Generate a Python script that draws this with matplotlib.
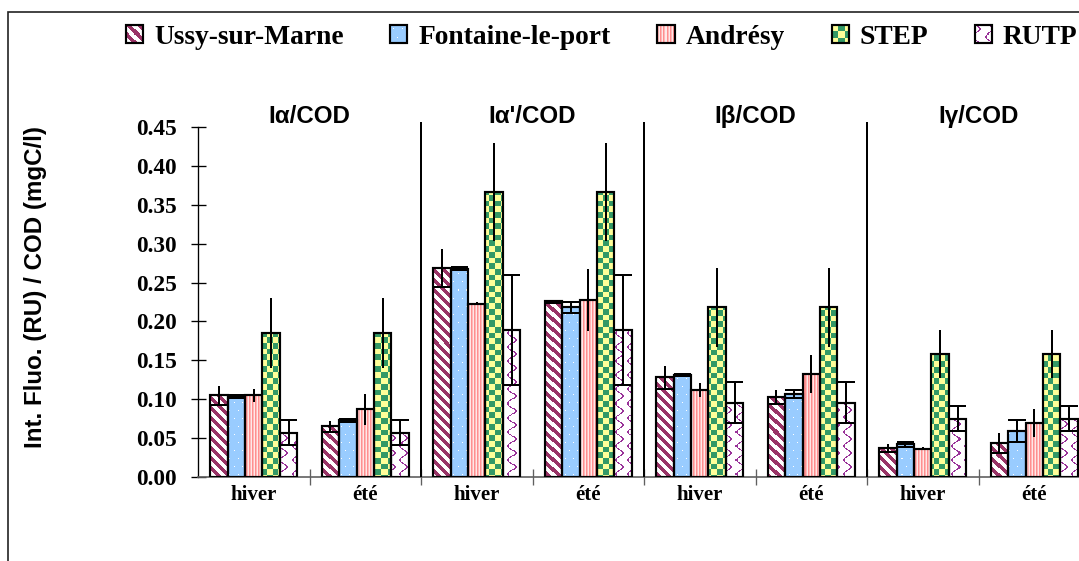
import numpy as np
import matplotlib
matplotlib.use("Agg")
import matplotlib.pyplot as plt
from matplotlib.patches import Rectangle, Patch
from matplotlib.image import BboxImage
from matplotlib.transforms import Bbox, TransformedBbox, blended_transform_factory
from matplotlib.legend_handler import HandlerBase

# data: 4 ratios x 2 seasons, one list per site
groups = ["Iα/COD", "Iα'/COD", "Iβ/COD", "Iγ/COD"]
seasons = ["hiver", "été"]
sites = ["Ussy-sur-Marne", "Fontaine-le-port", "Andrésy", "STEP", "RUTP"]

ussy = [0.105, 0.065, 0.269, 0.226, 0.128, 0.103, 0.037, 0.044]
ussy_err = [0.0125, 0.007, 0.0245, 0.002, 0.0145, 0.009, 0.005, 0.0125]
fontaine = [0.104, 0.073, 0.268, 0.218, 0.131, 0.107, 0.042, 0.0595]
fontaine_err = [0.002, 0.002, 0.0025, 0.007, 0.001, 0.005, 0.003, 0.014]
andresy = [0.105, 0.087, 0.223, 0.228, 0.1115, 0.1325, 0.0365, 0.0695]
andresy_err = [0.008, 0.0195, 0.002, 0.040, 0.009, 0.024, 0.002, 0.018]
step = [0.1855, 0.1855, 0.3665, 0.3665, 0.218, 0.218, 0.158, 0.158]
step_err = [0.045, 0.045, 0.0635, 0.0635, 0.051, 0.051, 0.031, 0.031]
rutp = [0.057, 0.057, 0.189, 0.189, 0.0955, 0.0955, 0.075, 0.075]
rutp_err = [0.016, 0.016, 0.0705, 0.0705, 0.0265, 0.0265, 0.016, 0.016]

values = [ussy, fontaine, andresy, step, rutp]
errors = [ussy_err, fontaine_err, andresy_err, step_err, rutp_err]
kinds = ["diag", "dots", "vstripes", "checker", "wave"]
# which caps each series shows: (lower, upper)
caps = [(True, False), (True, True), (False, False), (False, False), (True, True)]


def hexrgb(h):
    h = h.lstrip("#")
    return np.array([int(h[i:i + 2], 16) / 255 for i in (0, 2, 4)])


def texture(kind, h, w):
    # pixel fill patterns like the excel ones
    r, c = np.mgrid[0:h, 0:w]
    img = np.ones((h, w, 3))
    if kind == "diag":
        img[((c - r) % 10) < 4.5] = hexrgb("#993366")
    elif kind == "dots":
        img[:] = hexrgb("#99CCFF")
        shift = 4 * ((r // 8) % 2)
        img[(r % 8 == 3) & ((c + shift) % 8 == 3)] = 1.0
    elif kind == "vstripes":
        img[c % 3 == 0] = hexrgb("#FF8F8F")
        img[c % 3 == 1] = hexrgb("#FFB8B8")
        img[c % 3 == 2] = hexrgb("#FFE8E8")
    elif kind == "checker":
        img[:] = hexrgb("#FFFF99")
        img[((np.floor(r / 5.7) + np.floor(c / 5.7)) % 2) == 1] = hexrgb("#339966")
    elif kind == "wave":
        d = (c - 3.5 * np.sin(2 * np.pi * r / 14)) % 12
        img[d < 1.6] = hexrgb("#993399")
    return img


class TexHandler(HandlerBase):
    def __init__(self, kind):
        super().__init__()
        self.kind = kind

    def create_artists(self, legend, orig_handle, xdescent, ydescent,
                       width, height, fontsize, trans):
        bb = TransformedBbox(Bbox.from_bounds(-xdescent, -ydescent, width, height), trans)
        img = BboxImage(bb, interpolation="nearest")
        img.set_data(texture(self.kind, 17, 17))
        rect = Rectangle((-xdescent, -ydescent), width, height, facecolor="none",
                         edgecolor="black", lw=1.3, transform=trans)
        return [img, rect]


W, H, DPI = 1079, 561, 120
fig = plt.figure(figsize=(W / DPI, H / DPI), dpi=DPI)
ax = fig.add_axes([198 / W, 84 / H, 892 / W, 350 / H])

ymax = 0.45
n_cat = len(groups) * len(seasons)
x = np.arange(n_cat) + 0.5
bw = 0.156

bbox = ax.get_window_extent()
tw, th = int(round(bbox.width)), int(round(bbox.height))

for j, (vals, errs) in enumerate(zip(values, errors)):
    xs = x + (j - 2) * bw
    bars = ax.bar(xs, vals, width=bw, facecolor="none", edgecolor="black",
                  linewidth=1.3, zorder=3)
    tex = texture(kinds[j], th, tw)
    for b in bars:
        im = ax.imshow(tex, extent=(0, n_cat, 0, ymax), origin="upper",
                       interpolation="nearest", aspect="auto", zorder=2)
        im.set_clip_path(b)
    ax.errorbar(xs, vals, yerr=errs, fmt="none", ecolor="black", elinewidth=1.2,
                capsize=0, zorder=4)
    lo, up = caps[j]
    if lo:
        ax.hlines(np.array(vals) - np.array(errs), xs - bw / 2, xs + bw / 2,
                  color="black", lw=1.2, zorder=4)
    if up:
        ax.hlines(np.array(vals) + np.array(errs), xs - bw / 2, xs + bw / 2,
                  color="black", lw=1.2, zorder=4)

ax.set_xlim(0, n_cat)
ax.set_ylim(0, ymax)
ax.set_aspect("auto")

# group separators going up past the plot top
ax.vlines([2, 4, 6], 0, 0.4565, color="black", lw=1.2, clip_on=False, zorder=5)

tr = blended_transform_factory(ax.transData, ax.transAxes)
for g, name in enumerate(groups):
    ax.text(2 * g + 1, 1.031, name, transform=tr, ha="center", va="center",
            fontsize=14.5, fontweight="bold", family="Liberation Sans")

ax.set_yticks(np.arange(0, ymax + 0.001, 0.05))
ax.set_yticklabels([f"{v:.2f}" for v in np.arange(0, ymax + 0.001, 0.05)])
ax.tick_params(axis="y", direction="inout", length=9, width=0.8, pad=8,
               labelsize=14)
for t in ax.get_yticklabels():
    t.set_family("Liberation Serif")
    t.set_fontweight("bold")

ax.set_xticks(np.arange(1, n_cat))
ax.set_xticklabels([])
ax.set_xticks(x, minor=True)
ax.set_xticklabels(seasons * len(groups), minor=True)
ax.tick_params(axis="x", which="major", direction="inout", length=10, width=0.8,
               color="#606060")
ax.tick_params(axis="x", which="minor", length=0, pad=5, labelsize=12.5)
for t in ax.get_xticklabels(minor=True):
    t.set_family("Liberation Serif")
    t.set_fontweight("bold")

ax.set_ylabel("Int. Fluo. (RU) / COD (mgC/l)", fontsize=14.5, fontweight="bold",
              family="Liberation Sans")
ax.yaxis.set_label_coords(-0.169, 0.543)

for s in ("top", "right"):
    ax.spines[s].set_visible(False)
ax.spines["left"].set_linewidth(0.8)
ax.spines["bottom"].set_color("#606060")
ax.spines["bottom"].set_linewidth(1.0)

handles = [Patch(label=s) for s in sites]
fig.legend(handles=handles, labels=sites, ncol=5, loc="center left",
           bbox_to_anchor=(126 / W, 1 - 37 / H), frameon=False,
           handler_map={h: TexHandler(k) for h, k in zip(handles, kinds)},
           prop={"family": "Liberation Serif", "weight": "bold", "size": 16.5},
           handlelength=0.62, handleheight=0.62, handletextpad=0.4,
           columnspacing=1.7, borderpad=0, borderaxespad=0)

# outer frame of the chart area
fig.add_artist(Rectangle((8 / W, -0.05), 1.2, (H - 12) / H + 0.05,
                         transform=fig.transFigure, fill=False,
                         edgecolor="#222222", lw=1.0))

fig.savefig("out.png", dpi=DPI)
